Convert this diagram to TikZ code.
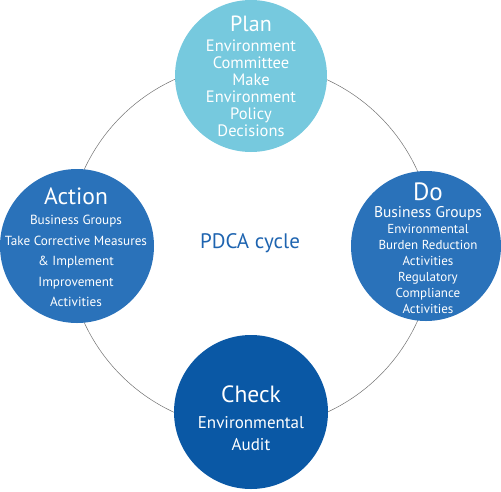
\documentclass[tikz,border=0pt]{standalone}
\usepackage{fontspec}
\setmainfont{PT Sans}
\usepackage{tikz}
\usetikzlibrary{positioning, calc}
\definecolor{planblue}{HTML}{76C9DE}
\definecolor{doblue}{HTML}{2A72BA}
\definecolor{checkblue}{HTML}{0A58A5}
\definecolor{labelblue}{HTML}{1E64B0}
\tikzset{
    phase/.style={circle, fill=#1, inner sep=0pt},
    words/.style={text=white, align=center, inner sep=0pt}
}
\newcommand{\hd}[1]{{\fontsize{22}{23}\selectfont #1}}

\begin{document}
\begin{tikzpicture}[x=1pt, y=-1pt]
        \useasboundingbox (0,0) rectangle (501,491);
        \coordinate (centre) at (250.5,246);
        \draw[black!55, line width=0.5pt] (centre) circle (183);
        % the four phases
        \node[phase=planblue, minimum size=152pt] (plan) at (251,76) {};
        \node[phase=doblue, minimum size=150pt] (do) at (426,246) {};
        \node[phase=checkblue, minimum size=154pt] (check) at (251,412) {};
        \node[phase=doblue, minimum size=154pt] (act) at (77,246) {};
        % their texts
        \node[words, font=\fontsize{16.5}{17}\selectfont] (plantext) at (plan)
            {\hd{Plan}\\[3pt] Environment\\ Committee\\ Make\\ Environment\\ Policy\\ Decisions};
        \node[words, font=\fontsize{13}{16}\selectfont, xshift=2pt, yshift=-2pt] (dotext) at (do)
            {{\fontsize{25}{25}\selectfont Do}\\[1pt] {\fontsize{15.5}{16}\selectfont Business Groups}\\ Environmental\\ Burden Reduction\\ Activities\\ Regulatory\\ Compliance\\ Activities};
        \node[words, font=\fontsize{17}{22}\selectfont, yshift=-6pt] (checktext) at (check)
            {{\fontsize{23.5}{24}\selectfont Check}\\[4pt] Environmental\\ Audit};
        \node[words, font=\fontsize{13.2}{20.5}\selectfont, xshift=-1pt, yshift=-1pt] (acttext) at (act)
            {{\fontsize{23.5}{24}\selectfont Action}\\[0pt] Business Groups\\ Take Corrective Measures\\ \& Implement\\ Improvement\\ Activities};
        \node[text=labelblue, font=\fontsize{21}{22}\selectfont] (pdca) at (250,243) {PDCA cycle};
    \end{tikzpicture}
\end{document}
